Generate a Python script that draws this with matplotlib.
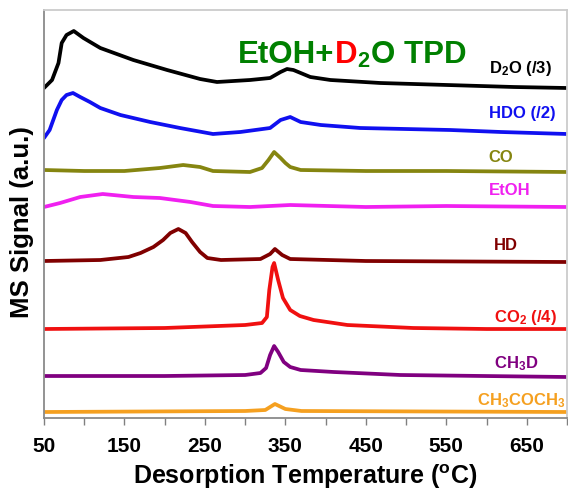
import matplotlib
matplotlib.use("Agg")
import matplotlib.pyplot as plt

plt.rcParams['font.family'] = ['Liberation Sans', 'DejaVu Sans']
plt.rcParams['mathtext.fontset'] = 'custom'
plt.rcParams['mathtext.rm'] = 'Liberation Sans:bold'
plt.rcParams['mathtext.bf'] = 'Liberation Sans:bold'
plt.rcParams['mathtext.it'] = 'Liberation Sans:bold'
plt.rcParams['mathtext.default'] = 'bf'

# ---- data (temperature in °C, signal in arbitrary units incl. offsets) ----
d2o_T = [50, 60, 68, 72, 78, 87, 99, 120, 161, 203, 244, 265, 306, 331, 344, 352, 360, 381, 406, 468, 551, 634, 700]
d2o_S = [330, 338, 355, 375, 383, 387, 380, 370, 358, 348, 339, 336, 338, 340, 346, 349, 348, 341, 338, 335, 333, 331, 330]

hdo_T = [50, 57, 66, 72, 78, 86, 95, 107, 120, 145, 182, 219, 260, 294, 331, 344, 356, 369, 394, 443, 555, 618, 700]
hdo_S = [280, 288, 308, 318, 323, 325, 321, 316, 310, 303, 296, 290, 284, 286, 290, 298, 301, 296, 293, 290, 288, 286, 284]

co_T = [50, 100, 150, 194, 223, 244, 260, 306, 321, 329, 336, 344, 350, 356, 369, 450, 550, 700]
co_S = [248, 247, 247, 250, 253, 251, 247, 246, 250, 258, 266, 260, 255, 251, 248, 247, 247, 246]

etoh_T = [50, 70, 95, 123, 161, 194, 232, 260, 306, 356, 450, 550, 700]
etoh_S = [211, 215, 221, 224, 221, 220, 216, 212, 211, 213, 211, 212, 211]

hd_T = [50, 120, 155, 170, 186, 198, 207, 217, 226, 234, 244, 253, 270, 319, 331, 337, 346, 356, 450, 700]
hd_S = [157, 158, 161, 165, 171, 178, 185, 189, 185, 176, 166, 160, 158, 159, 164, 169, 163, 159, 157, 156]

co2_T = [50, 200, 300, 321, 327, 330, 334, 336, 341, 347, 356, 368, 385, 427, 509, 600, 700]
co2_S = [89, 90, 93, 95, 101, 128, 151, 155, 138, 120, 108, 102, 98, 93, 90, 89, 89]

ch3d_T = [50, 200, 300, 319, 326, 331, 336, 341, 348, 356, 369, 410, 493, 700]
ch3d_S = [42, 42, 43, 45, 50, 63, 72, 66, 56, 51, 48, 46, 43, 41]

ace_T = [50, 300, 325, 337, 350, 370, 700]
ace_S = [6, 7, 8, 14, 9, 7, 6]

series = [
    (d2o_T, d2o_S, '#000000', r'D$_2$O (/3)', 602.7, 345),
    (hdo_T, hdo_S, '#1010f0', 'HDO (/2)', 602.7, 300),
    (co_T, co_S, '#858510', 'CO', 602.7, 256),
    (etoh_T, etoh_S, '#f020f0', 'EtOH', 602.7, 223),
    (hd_T, hd_S, '#800000', 'HD', 609, 168),
    (co2_T, co2_S, '#f01010', r'CO$_2$ (/4)', 609, 96),
    (ch3d_T, ch3d_S, '#800080', r'CH$_3$D', 609, 50),
    (ace_T, ace_S, '#f5a020', r'CH$_3$COCH$_3$', 588, 13),
]

title_parts = [('EtOH+', '#008000'), ('D', '#ff0000'), ('$_2$', '#008000'), ('O TPD', '#008000')]

xticks_major = [50, 150, 250, 350, 450, 550, 650]
xticks_minor = [100, 200, 300, 400, 500, 600, 700]

fig = plt.figure(figsize=(5.68, 4.90), dpi=100)
ax = fig.add_axes([44/568, 72/490, 523/568, 408/490])

for T, S, c, lab, lx, ly in series:
    ax.plot(T, S, color=c, lw=2.7, solid_joinstyle='round', solid_capstyle='round')
    ax.text(lx, ly, lab, color=c, fontsize=12, fontweight='bold', va='baseline', ha='left', clip_on=True)

# title with a red "D", pieces chained along the same baseline
tx, ty = 291.5, 355
tkw = dict(fontsize=22.5, fontweight='bold', va='baseline', ha='left')
prev = None
for txt, col in title_parts:
    if prev is None:
        prev = ax.text(tx, ty, txt, color=col, **tkw)
    else:
        prev = ax.annotate(txt, xy=(1, ty), xycoords=(prev, 'data'), xytext=(0, 0),
                           textcoords='offset points', color=col, **tkw)

ax.set_xlim(50, 700)
ax.set_ylim(0, 408)
ax.set_xticks(xticks_major)
ax.set_xticklabels([str(v) for v in xticks_major], fontsize=15, fontweight='bold')
ax.set_xticks(xticks_minor, minor=True)
ax.set_yticks([])
ax.tick_params(axis='x', which='both', direction='out', length=5, width=1, color='#808080', pad=9)

for side in ['left', 'bottom']:
    ax.spines[side].set_color('#8a8a8a')
    ax.spines[side].set_linewidth(1.3)
for side in ['top', 'right']:
    ax.spines[side].set_color('#cccccc')
    ax.spines[side].set_linewidth(1.3)

ax.set_xlabel(r'Desorption Temperature ($^{o}$C)', fontsize=18, fontweight='bold', va='baseline')
ax.xaxis.set_label_coords(0.5, -0.162)
ax.set_ylabel('MS Signal (a.u.)', fontsize=18.5, fontweight='bold', va='center')
ax.yaxis.set_label_coords(-0.042, 0.48)

fig.savefig('out.png', dpi=100)
